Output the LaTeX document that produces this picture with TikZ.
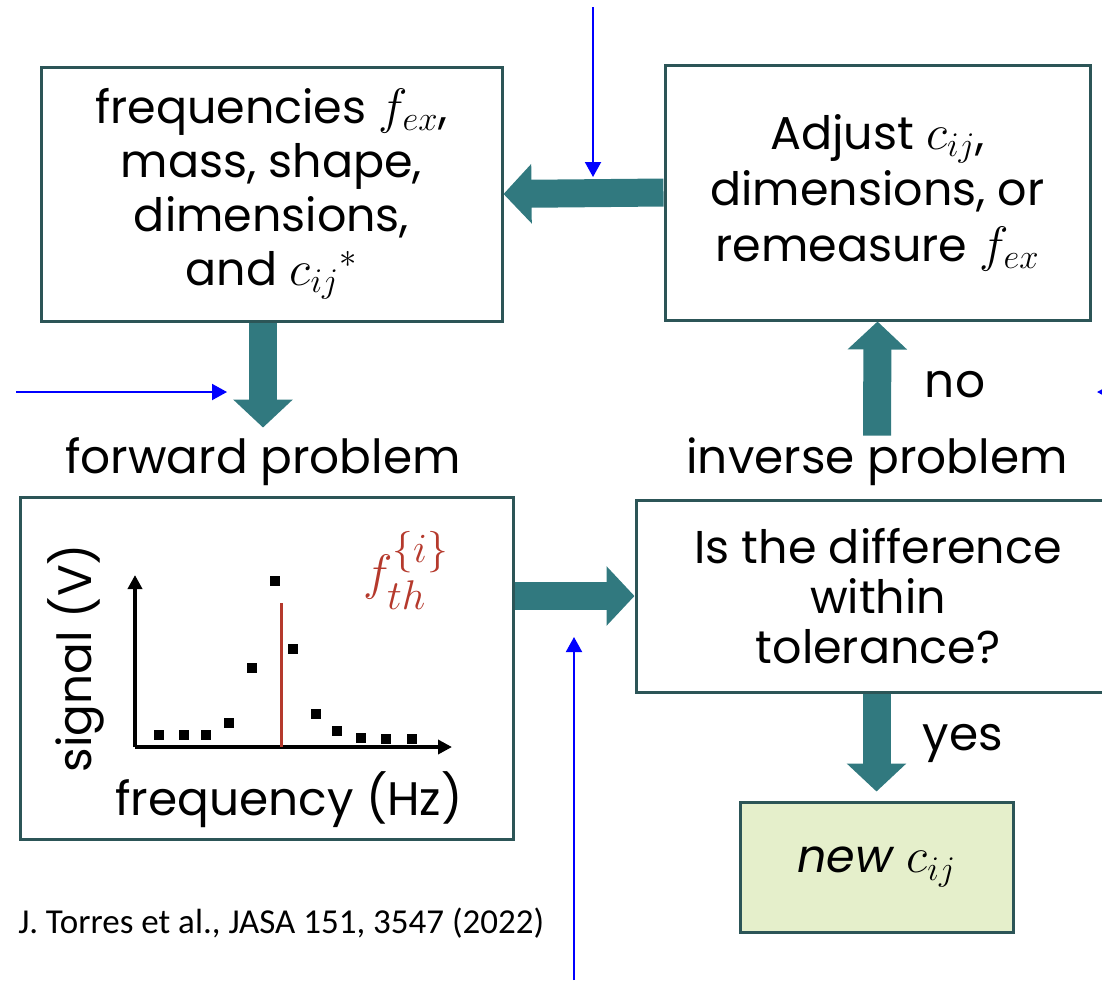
\documentclass[tikz,border=0pt]{standalone}
\usepackage{amsmath}
\usepackage{fontspec}
\setmainfont{Poppins}
\newfontfamily\citefont{Carlito}
\usetikzlibrary{arrows.meta, positioning, calc}
\definecolor{tealfill}{HTML}{31797F}
\definecolor{boxline}{HTML}{2C5557}
\definecolor{newfill}{HTML}{E5EFCB}
\definecolor{thred}{HTML}{B5392C}

\begin{document}
\begin{tikzpicture}[x=0.5pt,y=-0.5pt]
\tikzset{
  bx/.style={rectangle,draw=boxline,line width=1.5pt,fill=white,align=center,inner sep=0pt,font=\fontsize{23}{27}\selectfont},
  lb/.style={inner sep=1pt,font=\fontsize{23.5}{27}\selectfont},
  big/.style={line width=14pt,draw=tealfill,-{Triangle[length=14pt,width=29pt]}},
  bl/.style={draw=blue,line width=1pt,-{Triangle[length=7.5pt,width=8pt]}},
  ax/.style={line width=2pt,-{Triangle[length=7pt,width=7pt]}}
}
\useasboundingbox (0,0) rectangle (1102,981);
\clip (0,0) rectangle (1102,981);
% boxes
\node[bx,minimum width=230.5pt,minimum height=127pt,font=\fontsize{23}{27}\selectfont] (params) at (271.5,194) {frequencies $f_{ex}$,\\mass, shape,\\dimensions,\\and $c_{ij}{}^{*}$};
\node[bx,minimum width=212.5pt,minimum height=127.5pt,font=\fontsize{23}{28}\selectfont] (adj) at (877.5,192.5) {Adjust $c_{ij}$,\\dimensions, or\\remeasure $f_{ex}$};
\node[bx,minimum width=246.5pt,minimum height=171pt] (plot) at (266.5,668) {};
\node[bx,minimum width=242pt,minimum height=96pt,font=\fontsize{23}{25}\selectfont] (tol) at (878,596) {Is the difference\\within\\tolerance?};
\node[bx,fill=newfill,minimum width=136.5pt,minimum height=65pt] (newc) at (876.5,867) {\textit{new} $c_{ij}$};
% labels
\node[lb] (fwd) at (263,462) {forward problem};
\node[lb] (inv) at (877,462) {inverse problem};
\node[lb] (no) at (955,385) {no};
\node[lb] (yes) at (963,743) {yes};
\node[inner sep=0pt,anchor=west,font=\citefont\fontsize{17.5}{20}\selectfont] (cite) at (18,923) {J. Torres et al., JASA 151, 3547 (2022)};
% plot inside the forward box
\coordinate (o) at (135,747);
\draw[ax] (o) -- (135,575);
\draw[ax] (o) -- (452,747);
\draw[thred,line width=1.5pt] (281,603) -- (281,747);
\foreach \px/\py in {159/735,184/735,206/735,229/723,252/668,275/581,293/649,316/714,337/731,361/738,386/739,412/739}
  \fill (\px-5,\py-5) rectangle ++(10,10);
\node[lb,rotate=90] (sig) at (76,658) {signal (V)};
\node[lb] (freq) at (289,800) {frequency (Hz)};
\node[text=thred,inner sep=0pt,font=\fontsize{32}{34}\selectfont] (fth) at (406,570) {$f_{th}^{\{i\}}$};
% flow arrows
\draw[big] (adj.west) -- (params.east);
\draw[big,shorten >=4pt] (params.south -| fwd.north) -- (fwd.north);
\draw[big] (plot.east |- tol.west) -- (tol.west);
\draw[big] (inv.north) -- (adj.south);
\draw[big,shorten >=4.5pt] (newc.north |- tol.south) -- (newc.north);
% blue pointers
\coordinate (p1a) at (593,7);    \coordinate (p1b) at (593,177);
\coordinate (p2a) at (16,392);   \coordinate (p2b) at (227,392);
\coordinate (p3a) at (574,980);  \coordinate (p3b) at (574,637);
\coordinate (p4a) at (1115,392); \coordinate (p4b) at (1097,392);
\foreach \a/\b in {p1a/p1b,p2a/p2b,p3a/p3b,p4a/p4b}{\draw[bl] (\a)--(\b);}
\end{tikzpicture}
\end{document}
